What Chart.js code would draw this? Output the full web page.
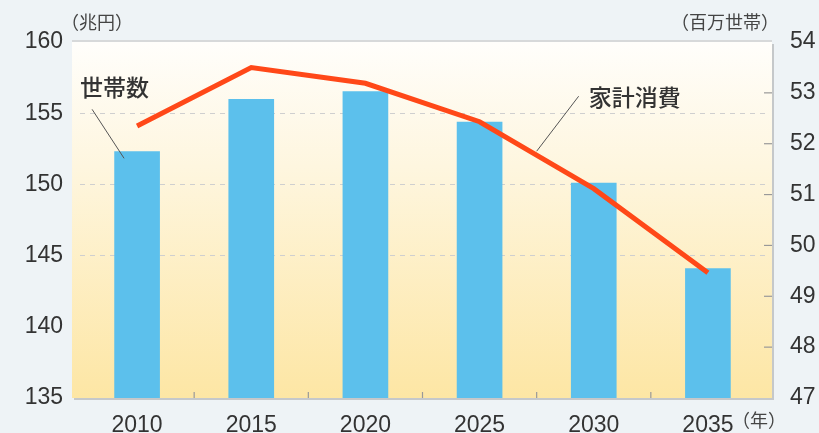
<!DOCTYPE html>
<html>
<head>
<meta charset="utf-8">
<script src="https://cdn.jsdelivr.net/npm/chart.js@4"></script>
<style>
  html,body{margin:0;padding:0;background:#eef3f6;}
  #wrap{width:819px;height:433px;position:relative;}
</style>
</head>
<body>
<div id="wrap"><canvas id="c" width="819" height="433"></canvas></div>
<script>
const years = ['2010','2015','2020','2025','2030','2035'];
const households = [51.85, 52.88, 53.03, 52.43, 51.23, 49.55]; // 百万世帯 (bars, right axis)
const consumption = [154.1, 158.2, 157.1, 154.4, 149.7, 143.8]; // 兆円 (line, left axis)
const leftTicks = [135, 140, 145, 150, 155, 160];
const rightTicks = [47, 48, 49, 50, 51, 52, 53, 54];

const FONT = '"Liberation Sans", Arial, sans-serif';
const JFONT = '"Noto Sans CJK JP", "Noto Sans", sans-serif';

const frame = {
  id: 'frame',
  beforeDraw(chart){
    const {ctx, chartArea:a} = chart;
    ctx.save();
    ctx.fillStyle = '#eef3f6';
    ctx.fillRect(0,0,chart.width,chart.height);
    const l = a.left-8, r = a.right+7;
    // shadow
    ctx.fillStyle = 'rgba(120,120,120,0.35)';
    ctx.fillRect(l+2, a.top+2, r-l, a.bottom-a.top);
    ctx.fillStyle = 'rgba(200,200,200,0.6)';
    ctx.fillRect(l, a.top-2, r-l, 2);
    const g = ctx.createLinearGradient(0, a.top, 0, a.bottom);
    g.addColorStop(0, '#fffefb');
    g.addColorStop(0.35, '#fef6df');
    g.addColorStop(1, '#fde6a4');
    ctx.fillStyle = g;
    ctx.fillRect(l, a.top, r-l, a.bottom-a.top);
    ctx.restore();
  },
  afterDatasetsDraw(chart){
    const {ctx, chartArea:a, scales} = chart;
    ctx.save();
    // inward ticks on right axis
    ctx.strokeStyle = '#999';
    ctx.lineWidth = 1.2;
    rightTicks.slice(1,-1).forEach(v => {
      const y = scales.yR.getPixelForValue(v);
      ctx.beginPath(); ctx.moveTo(a.right-1, y); ctx.lineTo(a.right+7, y); ctx.stroke();
    });
    // category boundary ticks
    for(let i=0;i<years.length-1;i++){
      const x = (scales.x.getPixelForValue(i)+scales.x.getPixelForValue(i+1))/2;
      ctx.beginPath(); ctx.moveTo(x, a.bottom); ctx.lineTo(x, a.bottom-6); ctx.stroke();
    }
    // annotations
    ctx.fillStyle = '#333';
    ctx.font = '500 23px ' + JFONT;
    ctx.textBaseline = 'middle';
    const bx = scales.x.getPixelForValue(0), by = scales.yR.getPixelForValue(households[0]);
    ctx.fillText('世帯数', bx-57, by-64);
    ctx.strokeStyle = '#555'; ctx.lineWidth = 1;
    ctx.beginPath(); ctx.moveTo(bx-45, by-42); ctx.lineTo(bx-13, by+7); ctx.stroke();
    const lx = (scales.x.getPixelForValue(3)+scales.x.getPixelForValue(4))/2;
    const ly = (scales.yL.getPixelForValue(consumption[3])+scales.yL.getPixelForValue(consumption[4]))/2;
    ctx.fillText('家計消費', lx+52, ly-58);
    ctx.beginPath(); ctx.moveTo(lx+42, ly-59); ctx.lineTo(lx, ly-4); ctx.stroke();
    // units
    ctx.fillStyle = '#444';
    ctx.font = '18px ' + JFONT;
    ctx.fillText('（兆円）', a.left-19, 22);
    ctx.textAlign = 'right';
    ctx.fillText('（百万世帯）', a.right+14, 22);
    ctx.textAlign = 'left';
    ctx.fillText('（年）', scales.x.getPixelForValue(5)+24, a.bottom+22);
    ctx.restore();
  }
};

new Chart(document.getElementById('c'), {
  data: {
    labels: years,
    datasets: [
      { type:'line', label:'家計消費', data: consumption, yAxisID:'yL',
        borderColor:'#ff4818', borderWidth:5, pointRadius:0, tension:0, order:0 },
      { type:'bar', label:'世帯数', data: households, yAxisID:'yR',
        backgroundColor:'#5cc0ec', categoryPercentage:1, barPercentage:0.4, order:1 }
    ]
  },
  options: {
    responsive:false,
    animation:false,
    layout:{ padding:{ top:42, left:0, right:0, bottom:0 } },
    plugins:{ legend:{display:false}, tooltip:{enabled:false} },
    scales:{
      x:{
        offset:true,
        grid:{display:false}, border:{display:false},
        ticks:{ font:{family:FONT, size:23}, color:'#333', padding:6 },
        afterFit(s){ s.height = 35; }
      },
      yL:{
        position:'left', min:135, max:160,
        afterBuildTicks(s){ s.ticks = leftTicks.map(v=>({value:v})); },
        grid:{ drawTicks:false,
          color: c => (c.tick && c.tick.value>=145 && c.tick.value<=155) ? '#cfcfcf' : 'rgba(0,0,0,0)' },
        border:{ display:false, dash:[5,5] },
        ticks:{ font:{family:FONT, size:23}, color:'#333', padding:17 },
        afterFit(s){ s.width = 80; }
      },
      yR:{
        position:'right', min:47, max:54,
        afterBuildTicks(s){ s.ticks = rightTicks.map(v=>({value:v})); },
        grid:{ display:false },
        border:{ display:false },
        ticks:{ font:{family:FONT, size:23}, color:'#333', padding:17 },
        afterFit(s){ s.width = 54; }
      }
    }
  },
  plugins:[frame]
});
</script>
</body>
</html>
